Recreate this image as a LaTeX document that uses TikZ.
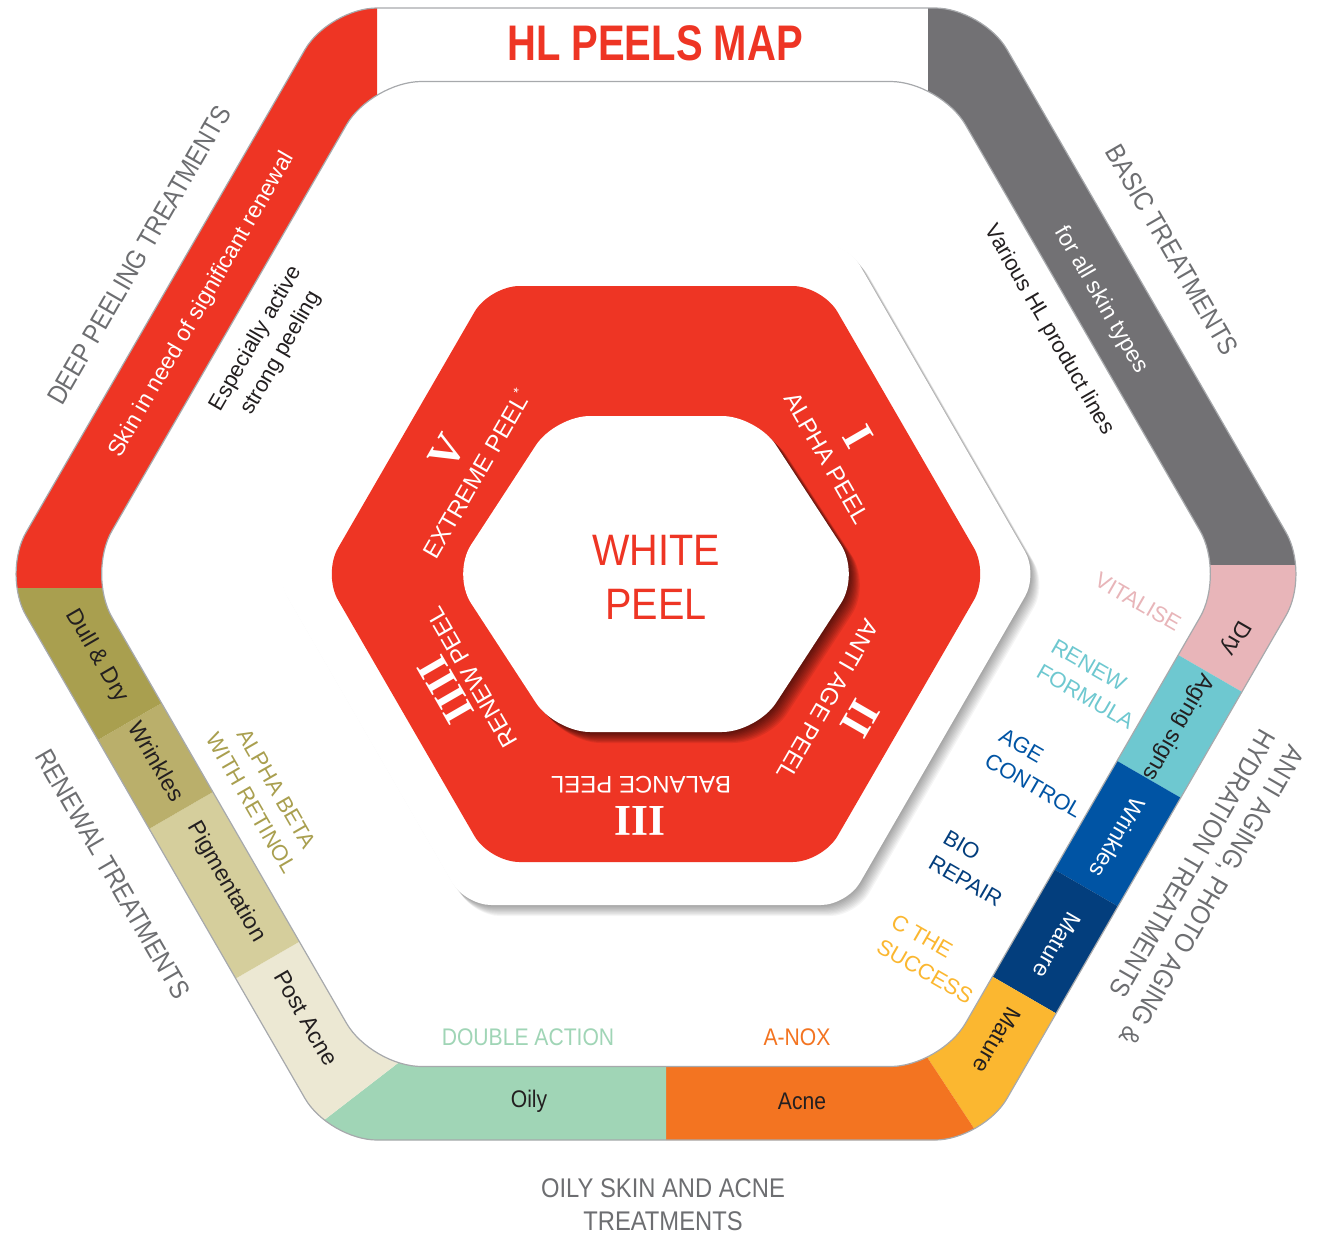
\documentclass[tikz,border=0pt]{standalone}
\usepackage{fontspec}
\setmainfont{Liberation Sans}
\newfontfamily\condfont[FakeStretch=0.88]{Liberation Sans}
\newfontfamily\titlefont[FakeStretch=0.8]{Liberation Sans}
\newfontfamily\peelfont[FakeStretch=0.9]{Liberation Sans}
\newfontfamily\numfont{Liberation Serif}

\definecolor{hlred}{HTML}{EE3524}
\definecolor{hlgray}{HTML}{727174}
\definecolor{labelgray}{HTML}{6D6E71}
\definecolor{outline}{HTML}{A7A9AC}
\definecolor{ink}{HTML}{231F20}
\definecolor{drypink}{HTML}{E8B5B9}
\definecolor{agingteal}{HTML}{6EC8D0}
\definecolor{wrinkleblue}{HTML}{0054A4}
\definecolor{maturenavy}{HTML}{033E7D}
\definecolor{matureyellow}{HTML}{FBB730}
\definecolor{acneorange}{HTML}{F37421}
\definecolor{oilygreen}{HTML}{A0D5B6}
\definecolor{postacne}{HTML}{ECE8D3}
\definecolor{pigment}{HTML}{D5CE9C}
\definecolor{wrinkleolive}{HTML}{BAAF6B}
\definecolor{dullolive}{HTML}{A99F4F}

\newcommand{\outerhex}{(656,8) -- (983,8) -- (1310,574) -- (983,1140) -- (329,1140) -- (2,574) -- (329,8) -- cycle}
\newcommand{\innerhex}{(656,81.5) -- (940.5,81.5) -- (1225,574) -- (940.5,1066.5) -- (371.5,1066.5) -- (87,574) -- (371.5,81.5) -- cycle}
\newcommand{\midhex}{(656,243) -- (847,243) -- (1038,574) -- (847,905) -- (465,905) -- (274,574) -- (465,243) -- cycle}
\newcommand{\redhex}{(656,286) -- (822.5,286) -- (989,574) -- (822.5,862) -- (489.5,862) -- (323,574) -- (489.5,286) -- cycle}
\newcommand{\corehex}{(656,416) -- (757,416) -- (860,574) -- (757,732) -- (555,732) -- (452,574) -- (555,416) -- cycle}

\begin{document}
\begin{tikzpicture}[x=1pt,y=-1pt,inner sep=0pt,
    treatment/.style={text=labelgray,font=\condfont\fontsize{27}{33}\selectfont},
    band/.style={text=ink,font=\fontsize{23}{25}\selectfont},
    product/.style={font=\fontsize{22}{29}\selectfont},
    ring/.style={text=white,font=\fontsize{24}{26}\selectfont},
    numeral/.style={text=white,font=\numfont\bfseries\fontsize{44}{44}\selectfont}]
  \useasboundingbox (0,0) rectangle (1325,1234);

  % outer ring of treatment bands
  \begin{scope}
    \clip[rounded corners=48pt] \outerhex;
    \fill[hlred] (-100,-100) -- (377,-100) -- (377,150) -- (150,588) -- (-100,588) -- cycle;
    \fill[hlgray] (928,-100) -- (1500,-100) -- (1500,565) -- (1150,565) -- (928,150) -- cycle;
    \fill[drypink] (1150,565) -- (1500,565) -- (1351,755) -- (1135,630) -- cycle;
    \fill[agingteal] (1135,630) -- (1351,755) -- (1290,861) -- (1074,736) -- cycle;
    \fill[wrinkleblue] (1074,736) -- (1290,861) -- (1228,970) -- (1012,845) -- cycle;
    \fill[maturenavy] (1012,845) -- (1228,970) -- (1166,1077) -- (950,952) -- cycle;
    \fill[matureyellow] (950,952) -- (1166,1077) -- (1300,1300) -- (1087,1300) -- (896,1010) -- cycle;
    \fill[acneorange] (896,1010) -- (1087,1300) -- (666,1300) -- (666,1000) -- cycle;
    \fill[oilygreen] (666,1000) -- (666,1300) -- (91,1300) -- (446,1026) -- cycle;
    \fill[postacne] (446,1026) -- (91,1300) -- (126,1042) -- (342,917) -- cycle;
    \fill[pigment] (342,917) -- (126,1042) -- (40,892) -- (256,767) -- cycle;
    \fill[wrinkleolive] (256,767) -- (40,892) -- (-11,803) -- (205,678) -- cycle;
    \fill[dullolive] (205,678) -- (-11,803) -- (-100,588) -- (150,588) -- cycle;
  \end{scope}
  \fill[white,rounded corners=50pt] \innerhex;
  \draw[outline,line width=1.2pt,rounded corners=48pt] \outerhex;
  \draw[outline,line width=1.2pt,rounded corners=50pt] \innerhex;

  % white plate, red ring and core
  \foreach \s in {1,...,10}
    \fill[black,opacity=0.04,rounded corners=26pt,shift={(0.9*\s,1.1*\s)}] \midhex;
  \fill[white,rounded corners=26pt] \midhex;
  \fill[hlred,rounded corners=30pt] \redhex;
  \foreach \s in {1,...,10}
    \fill[black,opacity=0.08,rounded corners=35pt,shift={(1.1*\s,1.1*\s)}] \corehex;
  \fill[white,rounded corners=35pt] \corehex;

  \node[font=\titlefont\bfseries\fontsize{50}{50}\selectfont,text=hlred] (title) at (655,43) {HL PEELS MAP};
  \node[font=\peelfont\fontsize{44}{54}\selectfont,text=hlred,align=center] (whitepeel) at (656,577) {WHITE\\PEEL};

  \node[ring,rotate=-60]  (alpha)      at (827,458) {ALPHA PEEL};
  \node[numeral,rotate=-60] (alphanum) at (858,437) {I};
  \node[ring,rotate=240]  (antiage)    at (828,700) {ANTI AGE PEEL};
  \node[numeral,rotate=240] (antiagenum) at (860,719) {II};
  \node[ring,rotate=180]  (balance)    at (641,785) {BALANCE PEEL};
  \node[numeral,rotate=180] (balancenum) at (640,821) {III};
  \node[ring,rotate=120]  (renewpeel)  at (472,677) {RENEW PEEL};
  \node[numeral,rotate=120] (renewnum) at (446,690) {IIII};
  \node[ring,rotate=60]   (extreme)    at (476,474) {EXTREME PEEL\raisebox{9pt}{\fontsize{14}{14}\selectfont *}};
  \node[numeral,rotate=60] (extremenum) at (447,452) {V};

  \node[band,text=white,rotate=60] (skin)    at (202,305) {Skin in need of significant renewal};
  \node[band,text=white,rotate=-60] (allskin) at (1101,300) {for all skin types};
  \node[band,rotate=240] (dry)      at (1235,638) {Dry};
  \node[band,rotate=240] (aging)    at (1178,727) {Aging signs};
  \node[band,text=white,rotate=240] (wrinklesR) at (1118,838) {Wrinkles};
  \node[band,text=white,rotate=240] (matureR)   at (1057,945) {Mature};
  \node[band,rotate=240] (matureY)  at (997,1040) {Mature};
  \node[band,font=\condfont\fontsize{24}{26}\selectfont] (acne) at (802,1101) {Acne};
  \node[band,font=\condfont\fontsize{24}{26}\selectfont] (oily) at (529,1101) {Oily};
  \node[band,rotate=-60] (postacne) at (306,1018) {Post Acne};
  \node[band,rotate=-60] (pigment)  at (226,882) {Pigmentation};
  \node[band,rotate=-60] (wrinklesL) at (157,761) {Wrinkles};
  \node[band,rotate=-60] (dull)     at (97,656) {Dull \& Dry};

  \node[treatment,rotate=60]  (deep)    at (139,255) {DEEP PEELING TREATMENTS};
  \node[treatment,rotate=-60] (basic)   at (1172,250) {BASIC TREATMENTS};
  \node[treatment,rotate=-60] (renewal) at (113,874) {RENEWAL TREATMENTS};
  \node[treatment,align=center] (oilyskin) at (663,1205) {OILY SKIN AND ACNE\\TREATMENTS};
  \node[treatment,rotate=240,align=left,anchor=west] (antiaging) at (1283,740) {ANTI AGING, PHOTO AGING \&\\HYDRATION TREATMENTS};

  \node[product,text=drypink,rotate=-30] (vitalise) at (1138,602) {VITALISE};
  \node[product,text=agingteal,rotate=-30,align=left,anchor=west] (renewformula) at (1046,657) {RENEW\\FORMULA};
  \node[product,text=wrinkleblue,rotate=-30,align=left,anchor=west] (agecontrol) at (994,746) {AGE\\CONTROL};
  \node[product,text=maturenavy,rotate=-30,align=left,anchor=west] (biorepair) at (938,848) {BIO\\REPAIR};
  \node[product,text=matureyellow,rotate=-30,align=left,anchor=west] (cthesuccess) at (886,932) {C THE\\SUCCESS};
  \node[text=acneorange,font=\condfont\fontsize{24}{26}\selectfont] (anox) at (797,1037) {A-NOX};
  \node[text=oilygreen,font=\condfont\fontsize{24}{26}\selectfont] (doubleaction) at (528,1037) {DOUBLE ACTION};
  \node[product,text=dullolive,rotate=-60,align=center] (alphabeta) at (264,796) {ALPHA BETA\\WITH RETINOL};
  \node[product,text=ink,rotate=60,align=center] (especially) at (269,346) {Especially active\\strong peeling};
  \node[product,text=ink,rotate=-60] (various) at (1049,330) {Various HL product lines};
\end{tikzpicture}
\end{document}
